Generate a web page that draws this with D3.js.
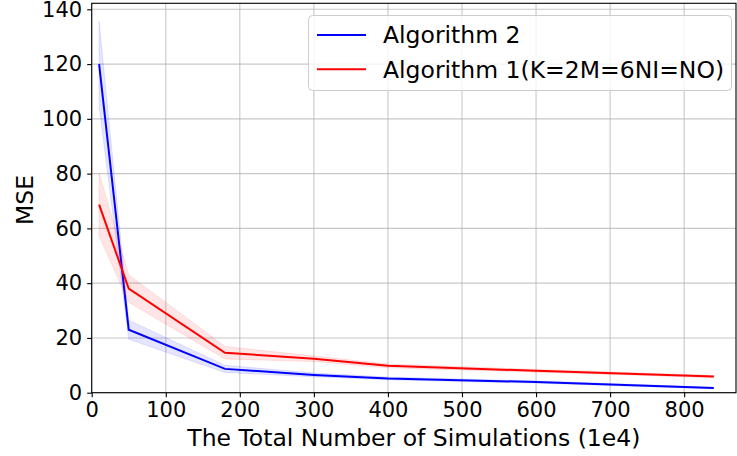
<!DOCTYPE html>
<html>
<head>
<meta charset="UTF-8">
<title>MSE chart</title>
<style>
    body { margin: 0; padding: 0; background: white; }
    svg { display: block; font-family: "DejaVu Sans", sans-serif; }
</style>
</head>
<body>
<div id="chart"></div>
<script src="https://cdn.jsdelivr.net/npm/d3@7"></script>
<script>
// data
const xs = [10, 50, 180, 300, 400, 600, 840];
const alg2 = [120, 23, 8.7, 6.5, 5.2, 3.9, 1.7];
const alg2Err = [15.5, 3.5, 1.3, 0.7, 0.5, 0.4, 0.3];
const alg1 = [68.7, 38, 14.6, 12.4, 9.8, 8.0, 5.9];
const alg1Err = [11.5, 5, 2.3, 1.0, 0.7, 0.5, 0.4];
const xTicks = [0, 100, 200, 300, 400, 500, 600, 700, 800];
const yTicks = [0, 20, 40, 60, 80, 100, 120, 140];
const legendNames = ["Algorithm 2", "Algorithm 1(K=2M=6NI=NO)"];

const w = 737, h = 456;
const padL = 91.7, padR = 736, padT = 3.3, padB = 392.7;

const svg = d3.select("#chart").append("svg")
    .attr("width", w).attr("height", h);

const x = d3.scaleLinear().domain([0, 870]).range([padL, padR]);
const y = d3.scaleLinear().domain([0, 142.2]).range([padB, padT]);

// grid
svg.append("g").selectAll("line").data(xTicks).enter().append("line")
    .attr("x1", d => x(d)).attr("x2", d => x(d))
    .attr("y1", padT).attr("y2", padB)
    .attr("stroke", "#b0b0b0").attr("stroke-opacity", 0.7).attr("stroke-width", 1.1);
svg.append("g").selectAll("line").data(yTicks).enter().append("line")
    .attr("x1", padL).attr("x2", padR)
    .attr("y1", d => y(d)).attr("y2", d => y(d))
    .attr("stroke", "#b0b0b0").attr("stroke-opacity", 0.7).attr("stroke-width", 1.1);

function series(vals, err, color) {
    const pts = xs.map((d, i) => ({ x: d, v: vals[i], e: err[i] }));
    const area = d3.area()
        .x(d => x(d.x))
        .y0(d => y(d.v - d.e))
        .y1(d => y(d.v + d.e));
    svg.append("path").datum(pts)
        .attr("d", area)
        .attr("fill", color).attr("fill-opacity", 0.1)
        .attr("stroke", color).attr("stroke-opacity", 0.1);
    const line = d3.line().x(d => x(d.x)).y(d => y(d.v));
    svg.append("path").datum(pts)
        .attr("d", line)
        .attr("fill", "none").attr("stroke", color).attr("stroke-width", 2);
}
series(alg2, alg2Err, "#0000ff");
series(alg1, alg1Err, "#ff0000");

// axes
const xAxis = d3.axisBottom(x).tickValues(xTicks).tickSize(4.5).tickPadding(5);
const yAxis = d3.axisLeft(y).tickValues(yTicks).tickSize(4.5).tickPadding(5);

const gx = svg.append("g").attr("transform", "translate(0," + padB + ")").call(xAxis);
const gy = svg.append("g").attr("transform", "translate(" + padL + ",0)").call(yAxis);
[gx, gy].forEach(g => {
    g.select(".domain").remove();
    g.selectAll("text").attr("font-size", 21).attr("fill", "#000")
        .attr("font-family", "DejaVu Sans, sans-serif");
    g.selectAll("line").attr("stroke", "#000").attr("stroke-width", 1.1);
});

// frame
svg.append("rect")
    .attr("x", padL).attr("y", padT)
    .attr("width", padR - padL).attr("height", padB - padT)
    .attr("fill", "none").attr("stroke", "#000").attr("stroke-width", 1.1);

// axis labels
svg.append("text")
    .attr("x", (padL + padR) / 2).attr("y", 446)
    .attr("text-anchor", "middle").attr("font-size", 23.5)
    .text("The Total Number of Simulations (1e4)");
svg.append("text")
    .attr("transform", "translate(32.5,200) rotate(-90)")
    .attr("text-anchor", "middle").attr("font-size", 23.5)
    .text("MSE");

// legend
const lg = svg.append("g");
lg.append("rect")
    .attr("x", 308.5).attr("y", 15.5).attr("width", 423).attr("height", 75)
    .attr("rx", 4)
    .attr("fill", "white").attr("fill-opacity", 0.8)
    .attr("stroke", "#cccccc");
const legendColors = ["#0000ff", "#ff0000"];
legendNames.forEach((name, i) => {
    const cy = 35 + i * 34.3;
    lg.append("line")
        .attr("x1", 317).attr("x2", 366)
        .attr("y1", cy).attr("y2", cy)
        .attr("stroke", legendColors[i]).attr("stroke-width", 2);
    lg.append("text")
        .attr("x", 383).attr("y", cy + 8.3)
        .attr("font-size", 23.5)
        .text(name);
});
</script>
</body>
</html>
